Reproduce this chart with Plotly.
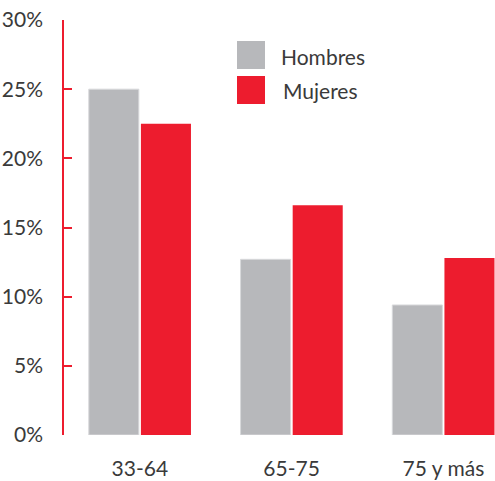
import plotly.graph_objects as go

grupos = ["33-64", "65-75", "75 y más"]
hombres = [25.0, 12.7, 9.4]
mujeres = [22.5, 16.6, 12.8]
y_ticks = [0, 5, 10, 15, 20, 25, 30]
y_labels = [f"{v}%" for v in y_ticks]

gris = "#b7b8bb"
rojo = "#ed1c2e"
texto = "#3a3a3a"

fig = go.Figure()
fig.add_trace(go.Bar(name="Hombres", x=grupos, y=hombres, marker_color=gris,
                     marker_line=dict(color="#d8d9db", width=1)))
fig.add_trace(go.Bar(name="Mujeres", x=grupos, y=mujeres, marker_color=rojo,
                     marker_line=dict(color=rojo, width=0)))

# leyenda dibujada a mano (cuadros grandes)
for i, (nombre, color) in enumerate([("Hombres", gris), ("Mujeres", rojo)]):
    y0 = 41 + i * 35
    fig.add_shape(type="rect", xref="paper", yref="paper",
                  x0=(237 - 64) / 431, x1=(265 - 64) / 431,
                  y0=1 - (y0 + 28 - 20) / 415, y1=1 - (y0 - 20) / 415,
                  fillcolor=color, line_width=0)
    fig.add_annotation(text=nombre, xref="paper", yref="paper",
                       x=(279 - 64 + i * 2) / 431, y=1 - (y0 + 15 - 20) / 415,
                       xanchor="left", yanchor="middle", showarrow=False,
                       font=dict(size=21, color=texto))

fig.update_layout(
    width=495, height=481,
    margin=dict(l=64, r=0, t=20, b=46),
    barmode="group", bargap=0.313, bargroupgap=0.04,
    showlegend=False,
    plot_bgcolor="white", paper_bgcolor="white",
    font=dict(family="Lato, Open Sans, sans-serif", size=21, color=texto),
)
fig.update_yaxes(range=[0, 30], tickvals=y_ticks, ticktext=y_labels,
                 showgrid=False, zeroline=False, showline=True,
                 linecolor=rojo, linewidth=1.5, ticks="inside", ticklen=8,
                 tickcolor=rojo, tickwidth=1.5, ticklabelstandoff=15,
                 automargin=False)
fig.update_xaxes(range=[-0.5, 2.34], showgrid=False, showline=False,
                 zeroline=False, ticks="", ticklabelstandoff=19,
                 automargin=False)

# quitar el margen del body para que el gráfico ocupe toda la ventana
fig.write_html("out.html", config={"displayModeBar": False},
               post_script="document.body.style.margin='0';")
